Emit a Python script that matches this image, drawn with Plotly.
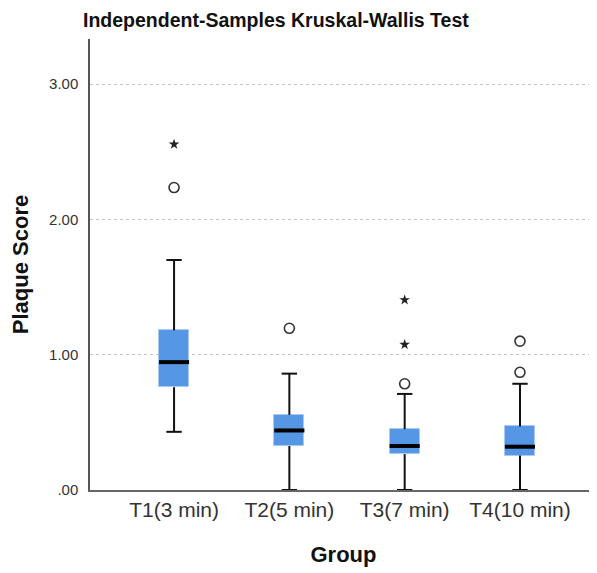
import plotly.graph_objects as go

# ---- data ----
groups = ["T1(3 min)", "T2(5 min)", "T3(7 min)", "T4(10 min)"]
lower_whisker = [0.43, 0.00, 0.00, 0.00]
q1 = [0.76, 0.325, 0.265, 0.255]
median = [0.945, 0.44, 0.325, 0.32]
q3 = [1.18, 0.555, 0.45, 0.47]
upper_whisker = [1.70, 0.86, 0.71, 0.785]

# mild outliers (circles) and extreme outliers (stars)
circle_groups = ["T1(3 min)", "T2(5 min)", "T3(7 min)", "T4(10 min)", "T4(10 min)"]
circle_values = [2.235, 1.195, 0.785, 1.10, 0.87]
star_groups = ["T1(3 min)", "T3(7 min)", "T3(7 min)"]
star_values = [2.555, 1.405, 1.075]

y_tickvals = [0, 1, 2, 3]
y_ticktext = [".00", "1.00", "2.00", "3.00"]

FONT = "Liberation Sans, Arial, sans-serif"
BOX_FILL = "#5597E5"
BOX_EDGE = "#A9CAF2"

fig = go.Figure()

# IQR boxes
fig.add_trace(go.Bar(
    x=groups,
    y=[b - a for a, b in zip(q1, q3)],
    base=q1,
    width=0.26,
    marker=dict(color=BOX_FILL, line=dict(color=BOX_EDGE, width=1)),
    hoverinfo="skip",
    showlegend=False,
))

# whisker stems
wx, wy = [], []
for g, lo, a, b, hi in zip(groups, lower_whisker, q1, q3, upper_whisker):
    wx += [g, g, None, g, g, None]
    wy += [lo, a, None, b, hi, None]
fig.add_trace(go.Scatter(
    x=wx, y=wy, mode="lines",
    line=dict(color="#111111", width=2),
    hoverinfo="skip", showlegend=False, cliponaxis=False,
))

# whisker caps
fig.add_trace(go.Scatter(
    x=groups + groups,
    y=lower_whisker + upper_whisker,
    mode="markers",
    marker=dict(symbol="line-ew", size=11, color="#111111",
                line=dict(color="#111111", width=2)),
    hoverinfo="skip", showlegend=False, cliponaxis=False,
))

# medians
fig.add_trace(go.Scatter(
    x=groups, y=median, mode="markers",
    marker=dict(symbol="line-ew", size=21.5, color="#000000",
                line=dict(color="#000000", width=4)),
    hoverinfo="skip", showlegend=False,
))

# outliers
fig.add_trace(go.Scatter(
    x=circle_groups, y=circle_values, mode="markers",
    marker=dict(symbol="circle-open", size=10, color="#333333",
                line=dict(color="#333333", width=1.6)),
    showlegend=False,
))
fig.add_trace(go.Scatter(
    x=star_groups, y=star_values, mode="markers",
    marker=dict(symbol="star", size=8, color="#222222",
                line=dict(width=0)),
    showlegend=False,
))

# the page body adds an 8px offset, so the figure is laid out 8px smaller
W, H, OFF = 589, 565, 8

fig.update_layout(
    width=W, height=H,
    margin=dict(l=90 - OFF, r=0, t=39 - OFF, b=H - (490 - OFF), pad=0),
    paper_bgcolor="white", plot_bgcolor="white",
    font=dict(family=FONT, color="#222222"),
    title=dict(
        text="<b>Independent-Samples Kruskal-Wallis Test</b>",
        font=dict(size=19.5, family=FONT, color="#111111"),
        xref="container", yref="container",
        x=(83 - OFF) / W, xanchor="left",
        y=1 - (20 - OFF) / H, yanchor="middle",
    ),
    showlegend=False,
    bargap=0,
)

fig.update_xaxes(
    type="category",
    categoryorder="array", categoryarray=groups,
    range=[-0.729, 3.668],
    showgrid=False, zeroline=False,
    showline=True, linecolor="#666666", linewidth=1.5,
    ticks="", tickfont=dict(size=21, color="#333333", family=FONT),
    title=dict(text="<b>Group</b>", font=dict(size=22, color="#111111", family=FONT),
               standoff=27),
)

fig.update_yaxes(
    range=[0, 3.333],
    tickvals=y_tickvals, ticktext=y_ticktext,
    showgrid=True, gridcolor="#C4C4C4", griddash="3px,3px", gridwidth=1,
    zeroline=False,
    showline=True, linecolor="#555555", linewidth=1.5,
    ticks="", ticklabelstandoff=7,
    tickfont=dict(size=15, color="#333333", family=FONT),
    title=dict(text="<b>Plaque Score</b>", font=dict(size=22, color="#111111", family=FONT),
               standoff=18),
)

fig.write_html("out.html")
